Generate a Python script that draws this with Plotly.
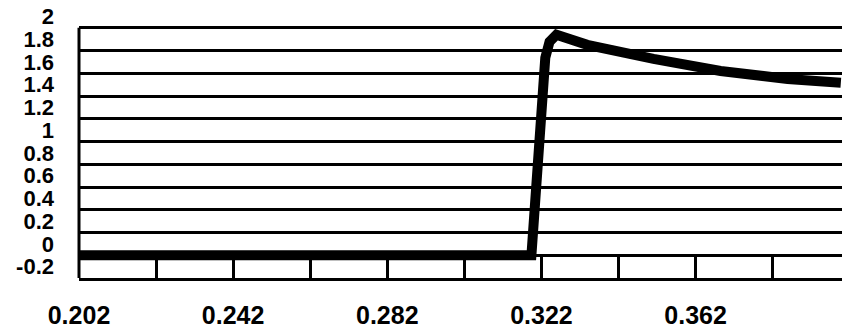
import plotly.graph_objects as go

# values
t = [0.202, 0.3194, 0.3230, 0.3241, 0.3259, 0.3339, 0.3511, 0.3685, 0.3859, 0.3997]
v = [-0.1, -0.1, 1.636, 1.777, 1.838, 1.75, 1.627, 1.52, 1.45, 1.416]

y_labels = [-0.2, 0, 0.2, 0.4, 0.6, 0.8, 1, 1.2, 1.4, 1.6, 1.8, 2]
y_grid = [-0.1, 0.1, 0.3, 0.5, 0.7, 0.9, 1.1, 1.3, 1.5, 1.7, 1.9]
x_ticks = [0.202, 0.242, 0.282, 0.322, 0.362]

x_min, x_max = 0.202, 0.400
y_bottom, y_frame_top, y_top = -0.3, 1.9, 2.1

x_font = dict(family="Liberation Sans", size=25, color="black", weight="bold")
y_font = dict(family="Liberation Sans", size=22, color="black", weight="bold")

fig = go.Figure()
fig.add_trace(go.Scatter(x=t, y=v, mode="lines",
                         line=dict(color="black", width=10), showlegend=False))

# left edge of the frame (the y axis line would run too high)
fig.add_shape(type="line", xref="paper", x0=0, x1=0, yref="y",
              y0=y_bottom, y1=y_frame_top, line=dict(color="black", width=3))

fig.update_xaxes(range=[x_min, x_max], showgrid=False, zeroline=False,
                 showline=True, linecolor="black", linewidth=3,
                 tickmode="array", tickvals=x_ticks,
                 ticktext=[f"{x:.3f}" for x in x_ticks],
                 ticks="inside", ticklen=24, tickwidth=3, tickcolor="black",
                 minor=dict(tick0=0.202, dtick=0.02, ticks="inside", ticklen=24,
                            tickwidth=3, tickcolor="black"),
                 ticklabelstandoff=13, tickfont=x_font, automargin=False)

fig.update_yaxes(range=[y_bottom, y_top], showgrid=False, zeroline=False,
                 showline=False, tickmode="array", tickvals=y_labels,
                 ticktext=[f"{y:g}" for y in y_labels], ticks="",
                 minor=dict(tickmode="array", tickvals=y_grid, showgrid=True,
                            gridcolor="black", gridwidth=3, ticks=""),
                 ticklabelstandoff=24, tickfont=y_font, automargin=False)

fig.update_layout(width=842, height=330, margin=dict(l=79, r=0, t=5, b=52),
                  plot_bgcolor="white", paper_bgcolor="white")

# page has a default 8px body margin; drop it so the figure fills the window
fig.write_html("out.html", config={"displayModeBar": False},
               post_script="document.body.style.margin='0';")
